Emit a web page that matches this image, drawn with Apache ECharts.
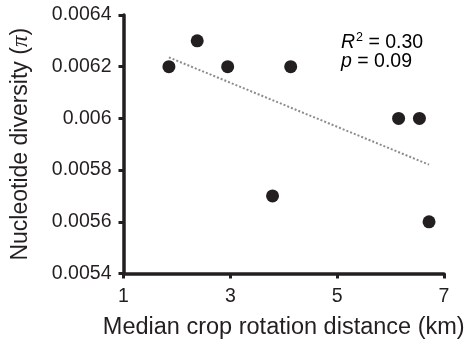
<!DOCTYPE html>
<html>
<head>
<meta charset="utf-8">
<script src="https://cdn.jsdelivr.net/npm/echarts@6/dist/echarts.min.js"></script>
<style>
  html, body { margin: 0; padding: 0; background: #fff; }
  #chart { width: 465px; height: 345px; }
</style>
</head>
<body>
<div id="chart"></div>
<script>
// values
const distance = [1.85, 2.38, 2.95, 4.13, 3.79, 6.15, 6.54, 6.72];
const diversity = [0.0062, 0.0063, 0.0062, 0.0062, 0.0057, 0.006, 0.006, 0.0056];
// fitted trend line end points
const trendX = [1.85, 6.72];
const trendY = [0.006236, 0.005821];
const xTicks = [1, 3, 5, 7];
const yTicks = [0.0054, 0.0056, 0.0058, 0.006, 0.0062, 0.0064];

const ink = "#231f20";
const font = "Liberation Sans";

const chart = echarts.init(document.getElementById("chart"));

chart.setOption({
  animation: false,
  grid: { left: 123.5, right: 21, top: 15, bottom: 71.5, containLabel: false, outerBoundsMode: "none" },
  xAxis: {
    type: "value",
    min: xTicks[0],
    max: xTicks[xTicks.length - 1],
    interval: xTicks[1] - xTicks[0],
    name: "Median crop rotation distance (km)",
    nameLocation: "middle",
    nameGap: 42,
    nameTextStyle: { fontFamily: font, fontSize: 23.5, color: ink },
    axisLine: { onZero: false, lineStyle: { color: ink, width: 3.5 } },
    axisTick: { length: 5, lineStyle: { color: ink, width: 3 } },
    axisLabel: { margin: 13, fontFamily: font, fontSize: 19.5, color: ink },
    splitLine: { show: false },
  },
  yAxis: {
    type: "value",
    min: yTicks[0],
    max: yTicks[yTicks.length - 1],
    interval: 0.0002,
    name: "{t|Nucleotide diversity (}{pi|π}{t|)}",
    nameLocation: "middle",
    nameRotate: 90,
    nameGap: 91,
    nameTextStyle: {
      rich: {
        t: { fontFamily: font, fontSize: 23, color: ink },
        pi: { fontFamily: "Liberation Serif", fontStyle: "italic", fontSize: 23, color: ink },
      },
    },
    axisLine: { onZero: false, lineStyle: { color: ink, width: 3.5 } },
    axisTick: { length: 5, lineStyle: { color: ink, width: 3 } },
    axisLabel: {
      margin: 12,
      fontFamily: font,
      fontSize: 19.5,
      color: ink,
      formatter: (v) => String(parseFloat(v.toFixed(4))),
    },
    splitLine: { show: false },
  },
  graphic: [
    {
      type: "text",
      left: 341,
      top: 31,
      style: {
        text: "{i|R}{s|2}{n| = 0.30}\n{i|p}{n| = 0.09}",
        rich: {
          i: { fontFamily: font, fontStyle: "italic", fontSize: 19.5, color: ink, lineHeight: 19.5 },
          s: { fontFamily: font, fontSize: 12.5, color: ink, lineHeight: 19.5, padding: [0, 0, 10, 1] },
          n: { fontFamily: font, fontSize: 19.5, color: ink, lineHeight: 19.5 },
        },
      },
    },
  ],
  series: [
    {
      type: "line",
      data: trendX.map((x, i) => [x, trendY[i]]),
      symbol: "none",
      lineStyle: { color: "#8c8c8c", width: 2, type: [2, 2] },
      z: 1,
    },
    {
      type: "scatter",
      data: distance.map((x, i) => [x, diversity[i]]),
      symbol: "circle",
      symbolSize: 13,
      itemStyle: { color: ink, opacity: 1 },
      z: 3,
    },
  ],
});
</script>
</body>
</html>
